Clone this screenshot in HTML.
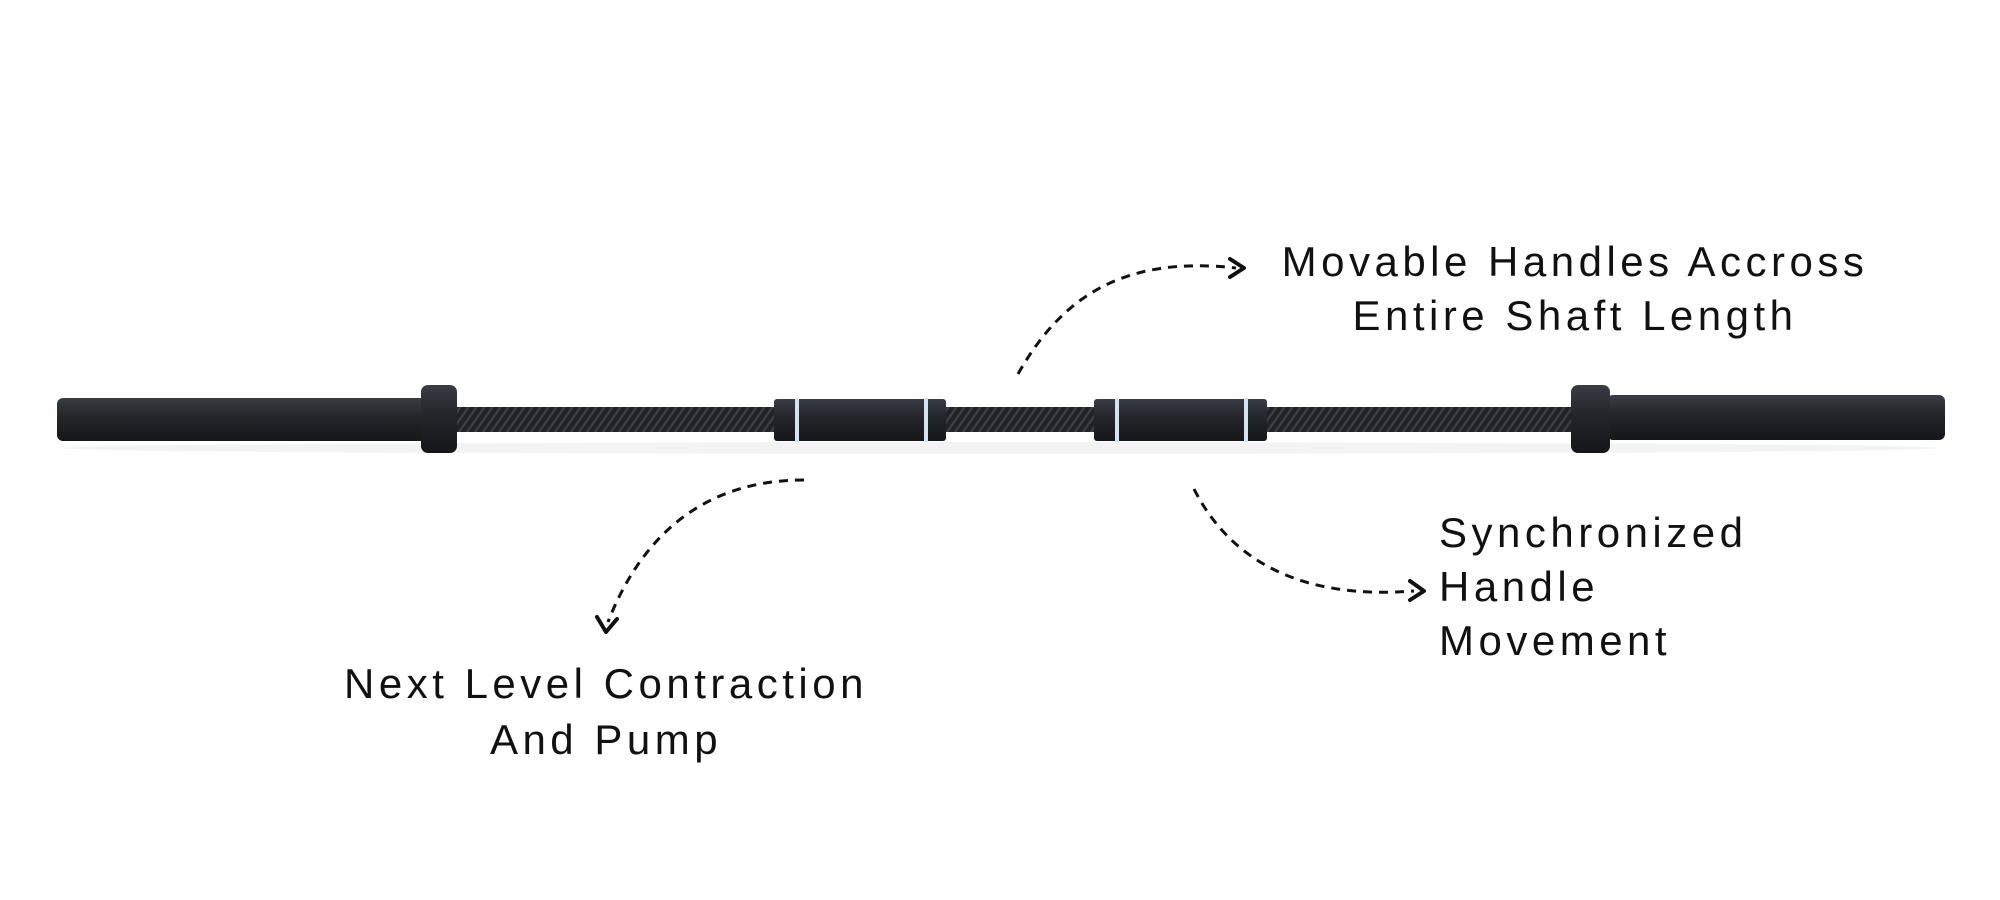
<!DOCTYPE html>
<html><head><style>
body{margin:0;width:2000px;height:900px;background:#fff;overflow:hidden;position:relative;font-family:"Liberation Sans",sans-serif;color:#111}
.t{position:absolute;font-size:42px;letter-spacing:4.5px;line-height:54px}
</style></head><body>
<svg width="2000" height="900" style="position:absolute;left:0;top:0">
<defs>
<linearGradient id="g" x1="0" y1="0" x2="0" y2="1"><stop offset="0" stop-color="#3a3d44"/><stop offset="0.4" stop-color="#25272c"/><stop offset="1" stop-color="#15161a"/></linearGradient>
<pattern id="k" width="8" height="30" patternUnits="userSpaceOnUse" patternTransform="skewX(-35)"><rect width="8" height="30" fill="#202227"/><rect width="3" height="30" fill="#3b3e45"/></pattern>
</defs>
<ellipse cx="1000" cy="448" rx="940" ry="6" fill="#f3f3f3"/>
<rect x="427" y="407" width="1150" height="25" fill="url(#k)"/>
<rect x="57" y="398" width="370" height="43" rx="6" fill="url(#g)"/>
<rect x="421" y="385" width="36" height="68" rx="7" fill="url(#g)"/>
<rect x="1607" y="395" width="338" height="45" rx="6" fill="url(#g)"/>
<rect x="1571" y="385" width="39" height="68" rx="7" fill="url(#g)"/>
<rect x="774" y="399" width="172" height="42" rx="3" fill="url(#g)"/>
<rect x="1094" y="399" width="173" height="42" rx="3" fill="url(#g)"/>
<g stroke="#cfe6f0" stroke-width="4"><line x1="797" y1="398" x2="797" y2="442"/><line x1="926" y1="398" x2="926" y2="442"/><line x1="1117" y1="398" x2="1117" y2="442"/><line x1="1246" y1="398" x2="1246" y2="442"/></g>
<g fill="none" stroke="#111" stroke-width="3" stroke-dasharray="9 7">
<path d="M1018 374 C1060 300 1120 255 1236 268"/>
<path d="M804 480 C700 480 640 540 608 622"/>
<path d="M1194 489 C1230 560 1300 600 1414 591"/>
</g>
<g fill="none" stroke="#111" stroke-width="4" stroke-linecap="round" stroke-linejoin="round">
<path d="M1230 259 L1244 268 L1230 277"/>
<path d="M597 617 L606 632 L617 619"/>
<path d="M1410 581 L1424 591 L1410 600"/>
</g>
</svg>
<div class="t" style="left:1225px;top:235px;width:700px;text-align:center">Movable Handles Accross<br>Entire Shaft Length</div>
<div class="t" style="left:1439px;top:506px">Synchronized<br>Handle<br>Movement</div>
<div class="t" style="left:256px;top:656px;width:700px;text-align:center;line-height:56px">Next Level Contraction<br>And Pump</div>
</body></html>
